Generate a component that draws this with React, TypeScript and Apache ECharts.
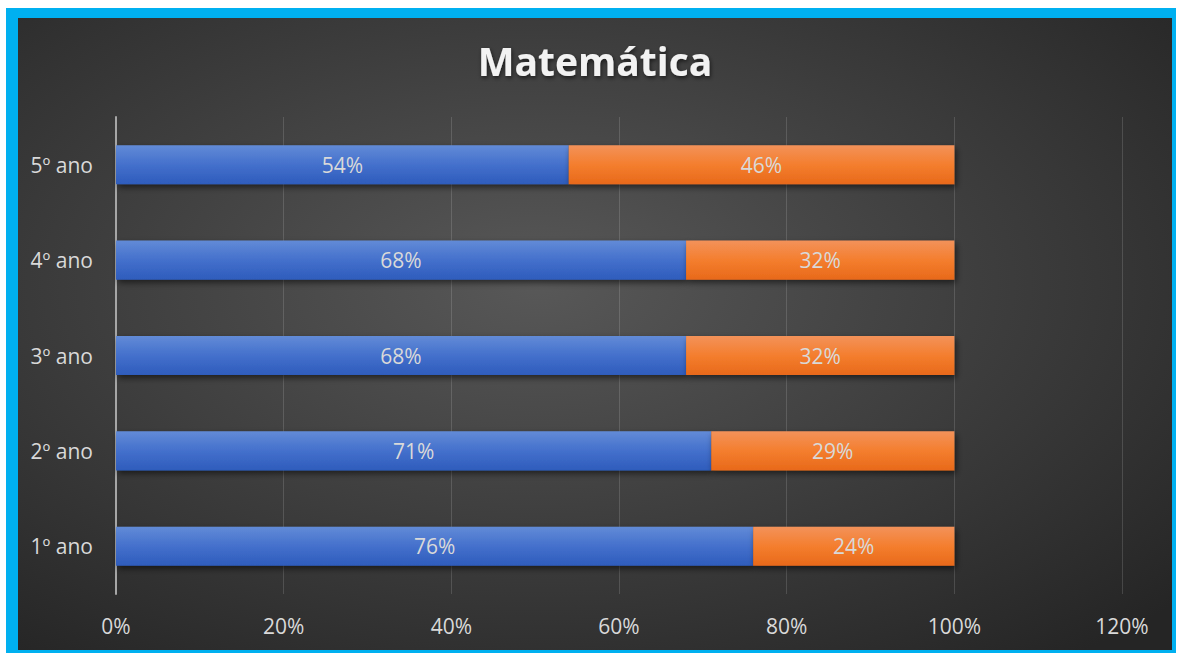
import React, { useEffect, useRef } from "react";
import * as echarts from "echarts";

const categories = ["1º ano", "2º ano", "3º ano", "4º ano", "5º ano"];
const seriesA = [76, 71, 68, 68, 54];
const seriesB = [24, 29, 32, 32, 46];
const xTicks = { min: 0, max: 120, interval: 20 };
const titleText = "Matemática";

export default function App() {
  const ref = useRef<HTMLDivElement>(null);
  useEffect(() => {
    if (!ref.current) return;
    const chart = echarts.init(ref.current, null, { renderer: "svg" });
    const labelStyle = {
      show: true,
      position: "inside",
      color: "#d9d9d9",
      fontSize: 21,
      fontFamily: "Open Sans",
      formatter: (p: any) => p.value + "%",
    };
    chart.setOption({
      animation: false,
      backgroundColor: {
        type: "radial",
        x: 0.45,
        y: 0.42,
        r: 0.75,
        colorStops: [
          { offset: 0, color: "#585858" },
          { offset: 1, color: "#252525" },
        ],
      },
      title: {
        text: titleText,
        left: "center",
        top: 18,
        textStyle: {
          color: "#f2f2f2",
          fontSize: 39,
          fontWeight: "bold",
          fontFamily: "Open Sans",
          textShadowColor: "rgba(0,0,0,0.6)",
          textShadowBlur: 4,
          textShadowOffsetX: 1,
          textShadowOffsetY: 2,
        },
      },
      grid: { left: 98, right: 50, top: 99, bottom: 56, containLabel: false },
      xAxis: {
        type: "value",
        min: xTicks.min,
        max: xTicks.max,
        interval: xTicks.interval,
        axisLine: { show: false },
        axisTick: { show: false },
        splitLine: { lineStyle: { color: "rgba(255,255,255,0.14)", width: 1 } },
        axisLabel: {
          formatter: "{value}%",
          color: "#d9d9d9",
          fontSize: 21,
          fontFamily: "Open Sans",
          margin: 21,
        },
      },
      yAxis: {
        type: "category",
        data: categories,
        axisLine: { show: true, lineStyle: { color: "#a6a6a6", width: 2 } },
        axisTick: { show: false },
        axisLabel: {
          color: "#d9d9d9",
          fontSize: 21,
          fontFamily: "Open Sans",
          margin: 23,
        },
      },
      series: [
        {
          name: "Série 1",
          type: "bar",
          stack: "total",
          barWidth: "41%",
          data: seriesA,
          label: labelStyle,
          itemStyle: {
            color: {
              type: "linear",
              x: 0,
              y: 0,
              x2: 0,
              y2: 1,
              colorStops: [
                { offset: 0, color: "#628bd7" },
                { offset: 0.5, color: "#4470cc" },
                { offset: 1, color: "#2e5cbc" },
              ],
            },
            shadowColor: "rgba(0,0,0,0.55)",
            shadowBlur: 6,
            shadowOffsetX: 2,
            shadowOffsetY: 3,
          },
        },
        {
          name: "Série 2",
          type: "bar",
          stack: "total",
          barWidth: "41%",
          data: seriesB,
          label: labelStyle,
          itemStyle: {
            color: {
              type: "linear",
              x: 0,
              y: 0,
              x2: 0,
              y2: 1,
              colorStops: [
                { offset: 0, color: "#f3925a" },
                { offset: 0.5, color: "#f47e2e" },
                { offset: 1, color: "#e8691a" },
              ],
            },
            shadowColor: "rgba(0,0,0,0.55)",
            shadowBlur: 6,
            shadowOffsetX: 2,
            shadowOffsetY: 3,
          },
        },
      ],
    });
    return () => chart.dispose();
  }, []);

  return (
    <div style={{ position: "fixed", left: 0, top: 0, width: 1180, height: 653, background: "#ffffff" }}>
      <div style={{ position: "absolute", left: 6, top: 8, width: 1170, height: 645, background: "#00b0f0" }} />
      <div ref={ref} style={{ position: "absolute", left: 18, top: 18, width: 1154, height: 632 }} />
    </div>
  );
}
